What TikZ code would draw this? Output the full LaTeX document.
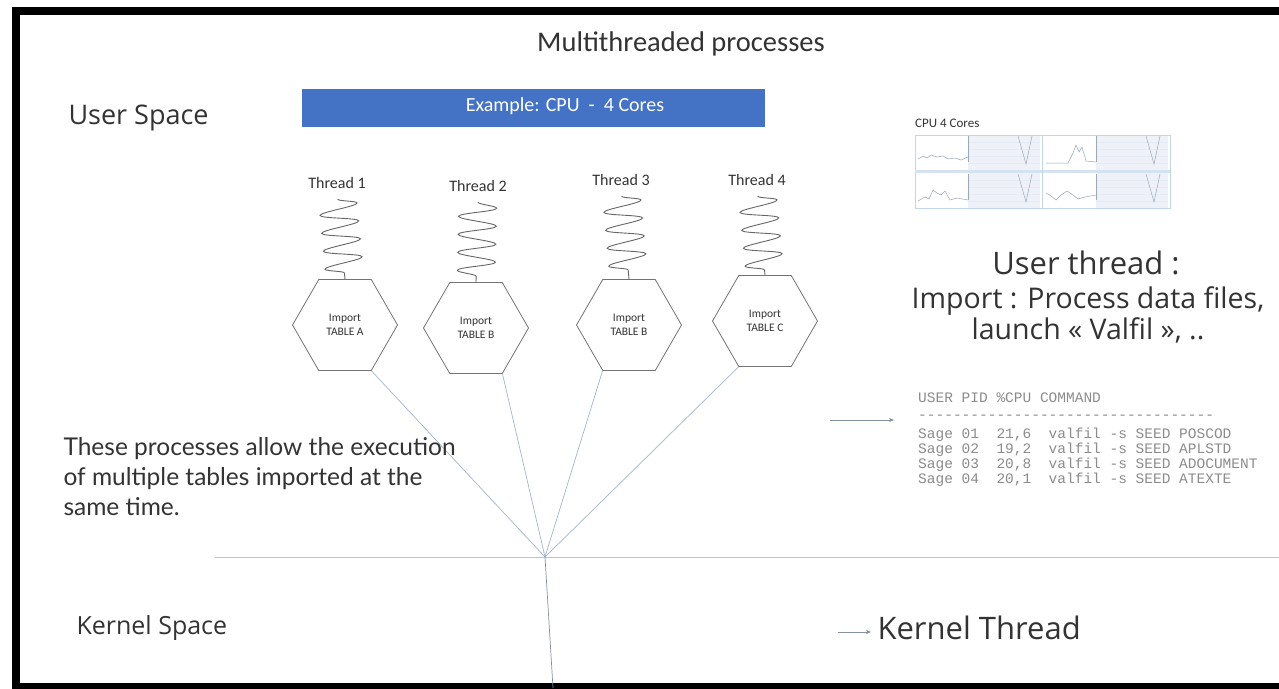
\documentclass[tikz,border=0pt]{standalone}
\usepackage{fontspec}
\setmainfont{Carlito}
\newfontfamily\osans{Open Sans}
\newfontfamily\lato{Lato}
\setmonofont{Liberation Mono}
\usetikzlibrary{shapes.geometric,decorations.pathmorphing,arrows.meta}
\definecolor{barblue}{HTML}{4472C4}
\definecolor{txtgray}{HTML}{333333}
\definecolor{fanline}{HTML}{A3B6CC}
\definecolor{sepline}{HTML}{B3C6DB}
\definecolor{pstext}{HTML}{8C8C8C}
\definecolor{gridblue}{HTML}{C3D5EA}
\definecolor{gridfill}{HTML}{EEF2F8}
\definecolor{plotgray}{HTML}{9AA7B5}
\tikzset{
  bigtxt/.style={text=txtgray,font=\osans\fontsize{25}{30}\selectfont},
  threadtxt/.style={text=txtgray,font=\fontsize{16}{18}\selectfont},
  hexbox/.style={regular polygon,regular polygon sides=6,minimum size=105pt,
    draw=black!55,line width=0.8pt,align=center,inner sep=0pt,
    text=txtgray,font=\fontsize{11.5}{14}\selectfont},
  spring/.style={draw=black!60,line width=0.9pt,decorate,
    decoration={snake,amplitude=19pt,segment length=18pt,
      pre=moveto,pre length=7pt,post=lineto,post length=1pt}},
  fanln/.style={draw=fanline,line width=0.7pt},
  arr/.style={draw=fanline!80!black,line width=0.7pt,-{Stealth[length=5pt,width=4pt]}},
  plotln/.style={draw=plotgray,line width=0.5pt}
}
\begin{document}
\begin{tikzpicture}[x=1pt,y=-1pt]
  \useasboundingbox (0,0) rectangle (1279,688);
  \fill[white] (0,0) rectangle (1279,688);
  %cadre
  \draw[line width=8pt] (15.5,11) rectangle (1300,687);

  %titre
  \node[text=txtgray,font=\fontsize{28.5}{30}\selectfont] (titre) at (681,44) {Multithreaded processes};
  \node[bigtxt,font=\osans\fontsize{27}{30}\selectfont,anchor=west] (user) at (65,118) {User Space};
  \node[bigtxt,anchor=west] (kernel) at (73,628) {Kernel Space};

  %barre bleue
  \node[fill=barblue,minimum width=463pt,minimum height=38pt] (cpubar) at (533.5,108) {};
  \node[text=white,font=\fontsize{20}{22}\selectfont] (cputxt) at (565,106) {Example: CPU~~-~~4 Cores};

  %threads
  \node[threadtxt] (t1) at (337,183) {Thread 1};
  \node[threadtxt] (t2) at (478,186) {Thread 2};
  \node[threadtxt] (t3) at (621,180) {Thread 3};
  \node[threadtxt] (t4) at (757,180) {Thread 4};

  \node[hexbox] (h1) at (345,325) {Import\\TABLE A};
  \node[hexbox] (h2) at (476,328) {Import\\TABLE B};
  \node[hexbox] (h3) at (629,325) {Import\\TABLE B};
  \node[hexbox] (h4) at (765,321) {Import\\TABLE C};

  \foreach \i in {1,...,4}
    \draw[spring] (t\i.south) -- (h\i.north);

  %lignes vers le noyau
  \coordinate (fan) at (545,557);
  \coordinate (sepL) at (215,557);
  \coordinate (sepR) at (1279,557);
  \coordinate (kbot) at (553,688);
  \draw[draw=sepline,line width=0.8pt] (sepL) -- (sepR);
  \draw[fanln] (h1.-60) -- (fan);
  \draw[fanln] (h2.-60) -- (fan);
  \draw[fanln] (h3.-120) -- (fan);
  \draw[fanln] (h4.-120) -- (fan);
  \draw[fanln,draw=fanline!80!black] (fan) -- (kbot);

  %texte gauche
  \node[text=txtgray,font=\lato\fontsize{24.5}{30}\selectfont,align=left,anchor=west] (para) at (60,477)
    {These processes allow the execution\\of multiple tables imported at the\\same time.};

  %graphique CPU
  \node[text=txtgray,font=\fontsize{13}{14}\selectfont,anchor=west,inner sep=0pt] (cpulbl) at (915,123) {CPU 4 Cores};
  \foreach \ox/\oy in {915/135,1043/135,915/173,1043/173}{
    \begin{scope}[shift={(\ox,\oy)}]
      \fill[gridfill] (53,0) rectangle (125,35);
      \foreach \gy in {7,14,21,28}
        \draw[gridblue!45,line width=0.3pt] (53,\gy) -- (125,\gy);
      \draw[plotln] (53,27) -- (53,1);
      \draw[plotln] (103,1) -- (111,29) -- (117,1);
    \end{scope}
  }
  \draw[plotln] (918,159) -- (923,156) -- (927,158) -- (931,155) -- (937,157) -- (943,156) -- (948,159) -- (955,158) -- (961,160) -- (968,157);
  \draw[plotln] (1046,163) -- (1068,163) -- (1073,153) -- (1076,145) -- (1079,152) -- (1082,147) -- (1086,161) -- (1096,162);
  \draw[plotln] (918,201) -- (925,197) -- (929,199) -- (933,190) -- (937,193) -- (941,195) -- (945,191) -- (950,200) -- (957,198) -- (968,200);
  \draw[plotln] (1046,193) -- (1051,196) -- (1056,200) -- (1061,195) -- (1067,191) -- (1073,195) -- (1078,199) -- (1085,197) -- (1096,195);
  \draw[gridblue,line width=0.8pt] (915,135) rectangle (1170,208);
  \fill[gridblue!70] (915,170) rectangle (1170,173);
  \draw[gridblue,line width=0.8pt] (1042,135) -- (1042,208);

  %thread utilisateur
  \node[bigtxt,font=\osans\fontsize{31}{30}\selectfont] (uthread) at (1086,263) {User thread :};
  \node[bigtxt,font=\osans\fontsize{28.5}{31}\selectfont,align=center] (import) at (1088,315)
    {Import : Process data files,\\launch « Valfil », ..};

  %tableau ps
  \coordinate (psa) at (830,420);
  \coordinate (psb) at (894,420);
  \draw[arr] (psa) -- (psb);
  \node[text=pstext,font=\ttfamily\fontsize{14.5}{15}\selectfont,align=left,anchor=north west,inner sep=0pt] (ps) at (918,393)
    {USER PID \%CPU COMMAND\\[2pt]
     ----------------------------------\\[4pt]
     Sage~01~~21,6~~valfil -s SEED POSCOD\\
     Sage~02~~19,2~~valfil -s SEED APLSTD\\
     Sage~03~~20,8~~valfil -s SEED ADOCUMENT\\
     Sage~04~~20,1~~valfil -s SEED ATEXTE};

  %thread noyau
  \coordinate (ka) at (838,632);
  \coordinate (kb) at (871,632);
  \draw[arr] (ka) -- (kb);
  \node[bigtxt,font=\osans\fontsize{31}{30}\selectfont,anchor=west] (kthread) at (874,628) {Kernel Thread};
\end{tikzpicture}
\end{document}
